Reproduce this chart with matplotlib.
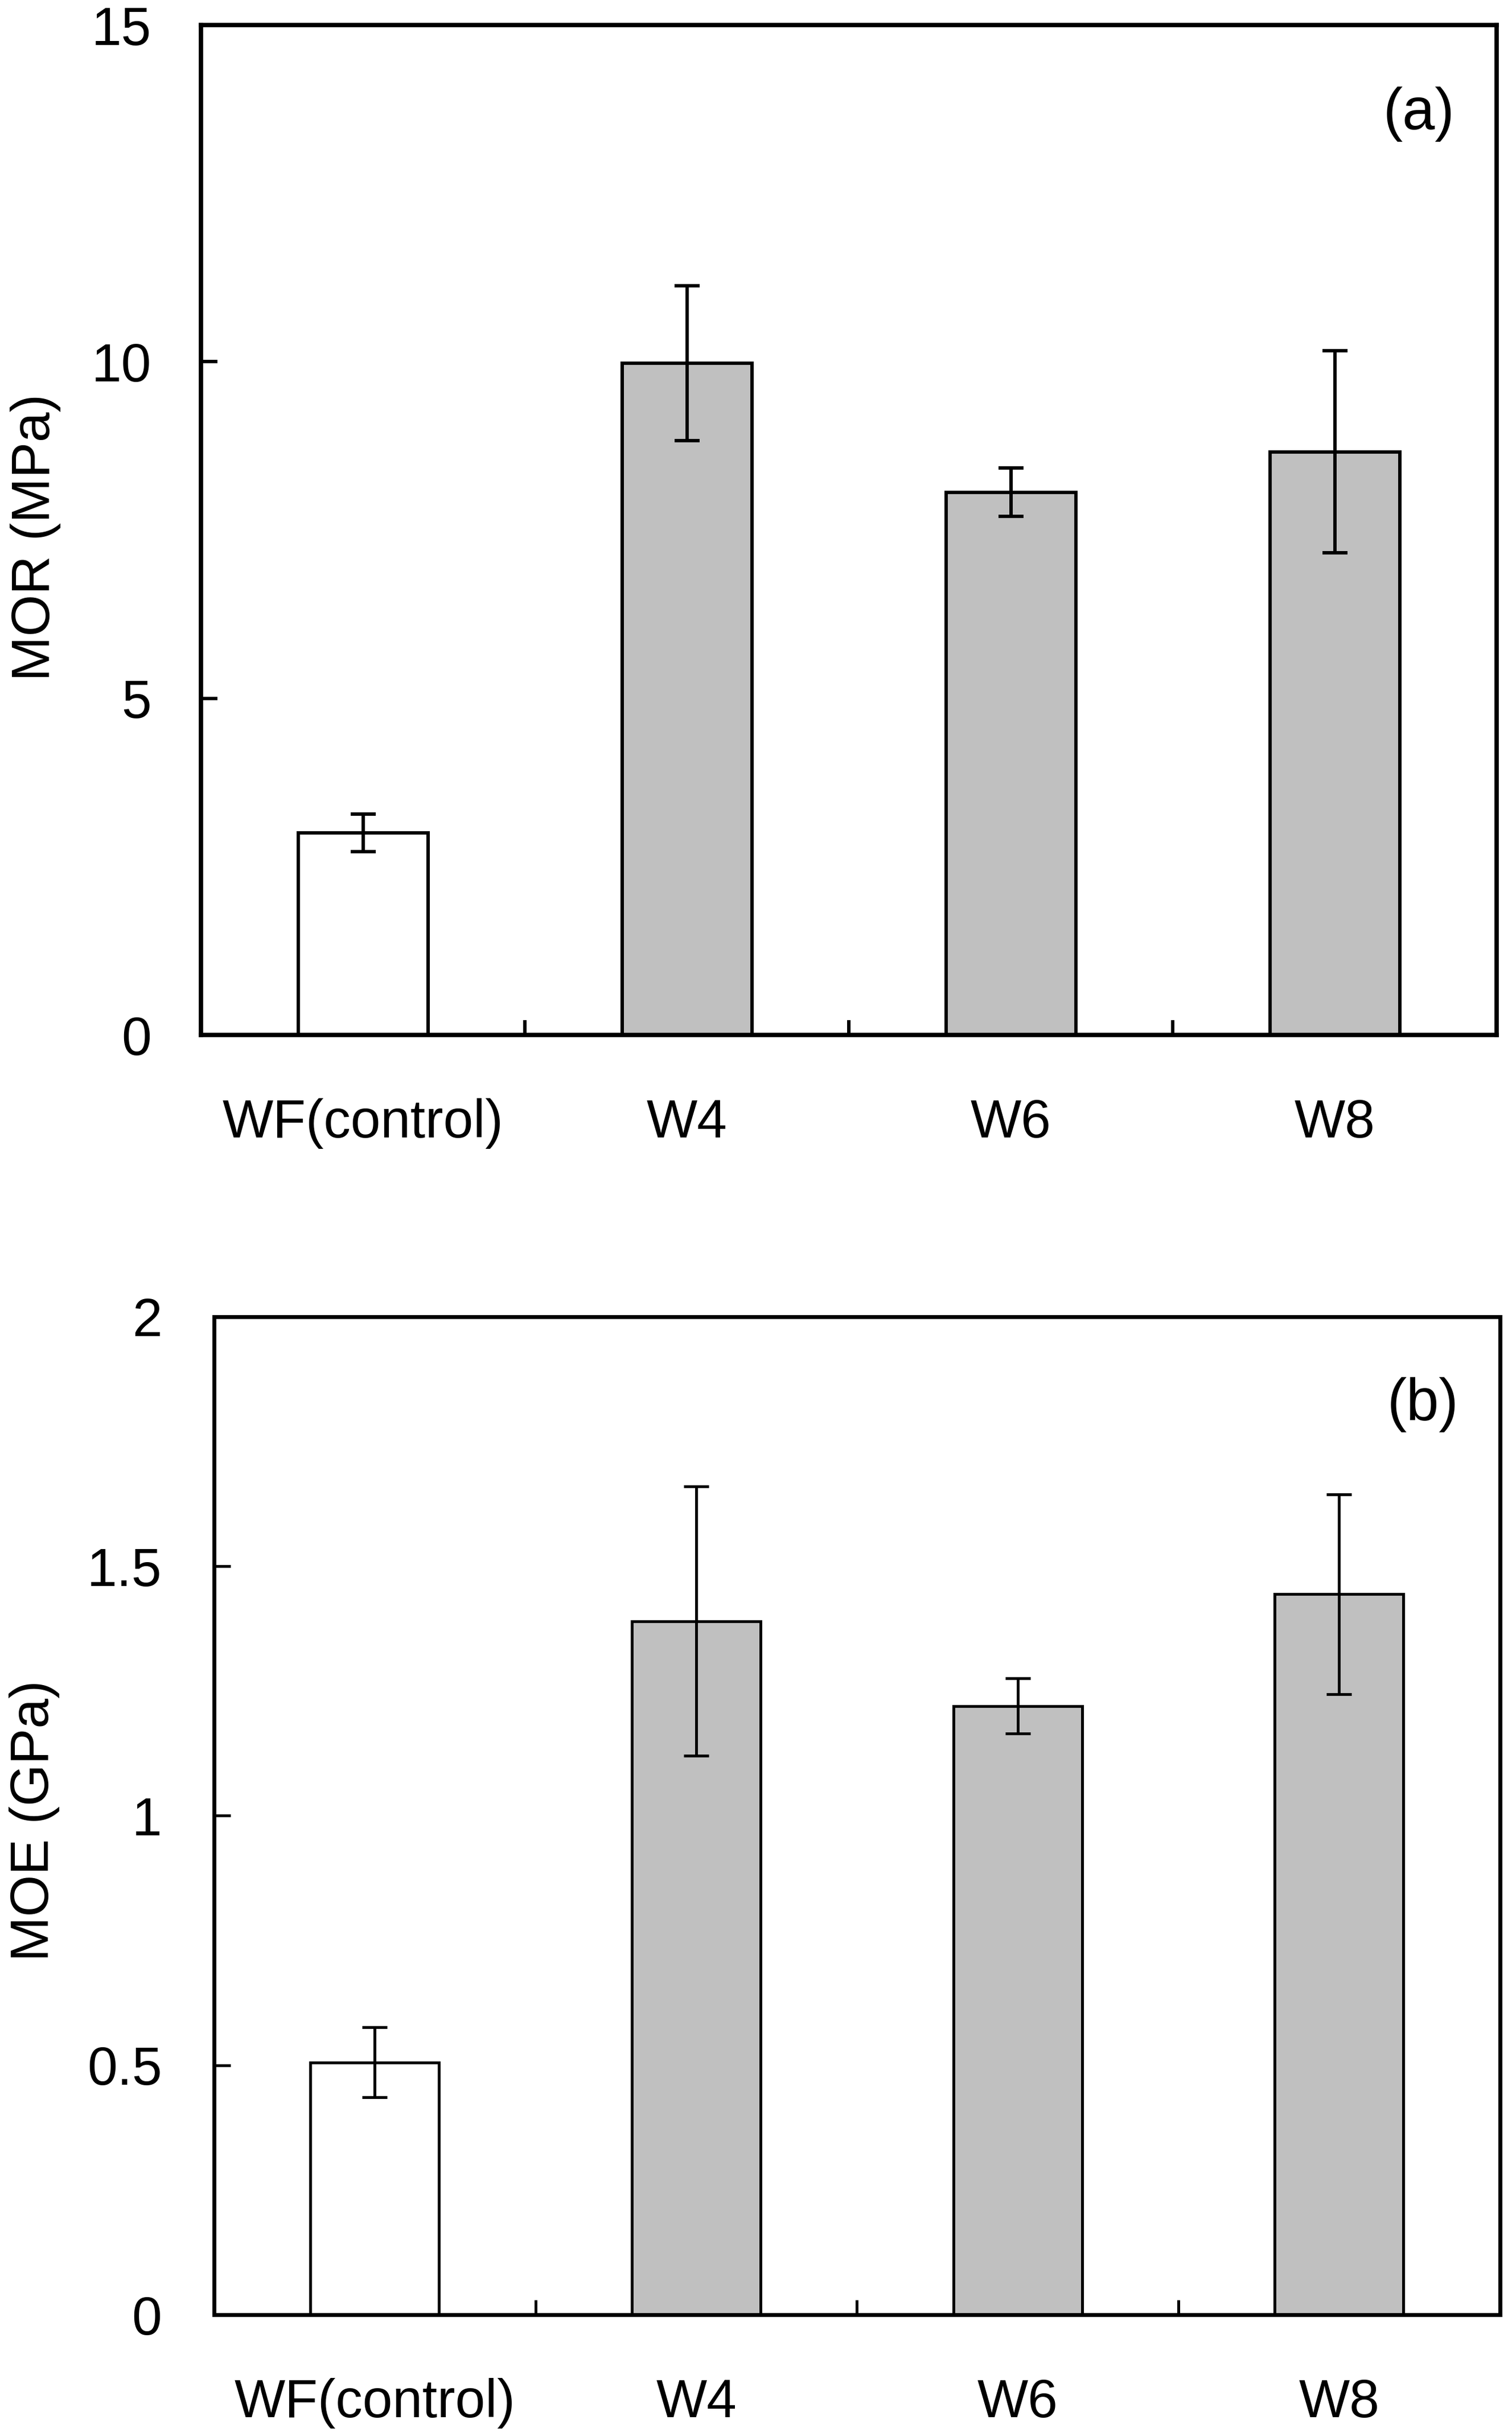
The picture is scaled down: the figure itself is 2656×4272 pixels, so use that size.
import numpy as np
import matplotlib.pyplot as plt

plt.rcParams['font.family'] = ['Liberation Sans', 'DejaVu Sans']

# Data
groups = ["WF(control)", "W4", "W6", "W8"]
mor = [3.0, 9.98, 8.06, 8.66]
mor_err = [0.28, 1.15, 0.36, 1.5]
moe = [0.506, 1.39, 1.22, 1.444]
moe_err = [0.07, 0.27, 0.055, 0.2]
fills = ["white", "#c0c0c0", "#c0c0c0", "#c0c0c0"]

fs = 68

fig = plt.figure(figsize=(26.56, 42.72), dpi=100)

# (left, bottom, width, height) in figure fractions
ax1 = fig.add_axes((0.133, 0.5744, 0.857, 0.4153))
ax2 = fig.add_axes((0.1416, 0.0482, 0.8504, 0.4104))


def draw_panel(ax, vals, errs, ylim, yticks, yticklabels, tag, lw_spine, lw_bar, ypad):
    x = np.arange(len(groups))
    ax.bar(x, vals, width=0.4, color=fills, edgecolor="black", linewidth=lw_bar, zorder=2)
    ax.errorbar(x, vals, yerr=errs, fmt="none", ecolor="black",
                elinewidth=lw_bar, capsize=16, capthick=lw_bar, zorder=3)
    ax.set_xlim(-0.5, len(groups) - 0.5)
    ax.set_ylim(*ylim)
    ax.set_yticks(yticks)
    ax.set_yticklabels(yticklabels)
    # category labels at centres, small boundary ticks between groups
    ax.set_xticks(x)
    ax.set_xticklabels(groups)
    ax.set_xticks(x[:-1] + 0.5, minor=True)
    ax.tick_params(axis="x", which="major", length=0, pad=80, labelsize=fs)
    ax.tick_params(axis="x", which="minor", direction="in", length=19, width=lw_bar)
    ax.tick_params(axis="y", direction="in", length=21, width=lw_bar, pad=ypad, labelsize=fs)
    for s in ax.spines.values():
        s.set_linewidth(lw_spine)
    ax.text(0.94, 0.912, tag, transform=ax.transAxes, ha="center", va="center", fontsize=fs + 6)


draw_panel(ax1, mor, mor_err, (0, 15), [0, 5, 10, 15], ["0", "5", "10", "15"],
           "(a)", 5.5, 4.3, 63)
draw_panel(ax2, moe, moe_err, (0, 2), [0, 0.5, 1, 1.5, 2], ["0", "0.5", "1", "1.5", "2"],
           "(b)", 5.0, 3.6, 66)

fig.text(0.0237, 0.779, "MOR (MPa)", rotation=90, ha="center", va="center", fontsize=fs)
fig.text(0.0226, 0.2514, "MOE (GPa)", rotation=90, ha="center", va="center", fontsize=fs)

fig.savefig("out.png", dpi=100, facecolor="white")
